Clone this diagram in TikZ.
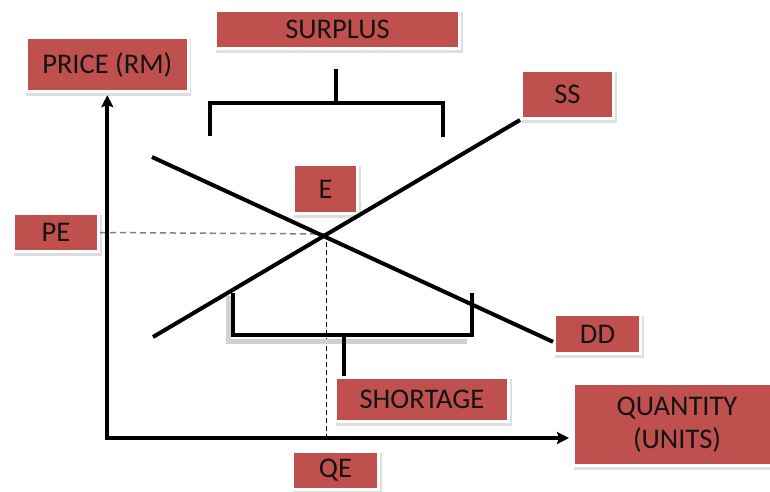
\documentclass[tikz,border=0pt]{standalone}
\usepackage{fontspec}
\setmainfont{Carlito}
\usetikzlibrary{arrows.meta,calc}
\definecolor{boxred}{HTML}{C0504D}
\definecolor{txt}{HTML}{141414}
\tikzset{
  lbl/.style={rectangle, fill=boxred, draw=white, line width=3pt, text=txt,
    font=\fontsize{28.5}{33}\selectfont, inner sep=0pt, align=center,
    preaction={fill=black!13, draw=black!13, line width=3pt, transform canvas={xshift=1.5pt,yshift=-2.5pt}}},
  curve/.style={line width=4pt, black},
  axis/.style={line width=4pt, black, -{Stealth[length=12pt,width=12pt,inset=2pt]}},
  brk/.style={line width=4pt, black, line join=miter},
  brkshadow/.style={line width=5pt, black!18},
}
\begin{document}
\begin{tikzpicture}[x=1pt,y=-1pt]
\useasboundingbox (0,0) rectangle (770,491);
% labels
\node[lbl, minimum width=244pt, minimum height=38pt] (surplus) at (337.5,29.5) {SURPLUS};
\node[lbl, minimum width=162pt, minimum height=54pt] (price) at (107.3,64.7) {PRICE (RM)};
\node[lbl, minimum width=64pt, minimum height=49pt] (e) at (325.5,189) {E};
\node[lbl, minimum width=85pt, minimum height=38pt] (pe) at (56,232.5) {PE};
\node[lbl, minimum width=92pt, minimum height=48pt] (ss) at (567.5,94.5) {SS};
\node[lbl, minimum width=86pt, minimum height=39pt] (dd) at (597.5,334) {DD};
\node[lbl, minimum width=173pt, minimum height=44pt] (shortage) at (422,399.5) {SHORTAGE};
\node[lbl, minimum width=207pt, minimum height=82pt] (quantity) at (677,424.5) {QUANTITY\\(UNITS)};
\node[lbl, minimum width=86pt, minimum height=38pt] (qe) at (335.5,470.5) {QE};
% key points
\coordinate (origin) at (107.3,438);
\coordinate (eq) at (326,234);
\coordinate (ssstart) at (153,337);
\coordinate (ddstart) at (152,157);
% dashed guides
\draw[gray, line width=1.5pt, dash pattern=on 6pt off 4pt] (pe.east) -- (eq);
\draw[black, line width=0.9pt, dash pattern=on 5pt off 3pt] (eq) -- (eq |- origin);
% supply and demand
\draw[curve] (ssstart) -- (ss.south west);
\draw[curve] (ddstart) -- (dd.190);
% surplus bracket
\coordinate (sstem) at (336,69);
\draw[brk] (210,136) -- (210,103) -- (443,103) -- (443,137);
\draw[brk] (sstem) -- (sstem |- 0,103);
% shortage bracket
\draw[brkshadow] (228,296) -- (228,341) -- (467,341);
\draw[brk] (233,293) -- (233,335) -- (472,335) -- (472,293);
\coordinate (shstem) at (344,335);
\draw[brk] (shstem) -- (shstem |- shortage.north);
% axes
\draw[axis, shorten >=2pt] (origin) -- (origin |- price.south);
\draw[axis, shorten >=3pt] ([xshift=-2pt]origin) -- (origin -| quantity.west);
\end{tikzpicture}
\end{document}
